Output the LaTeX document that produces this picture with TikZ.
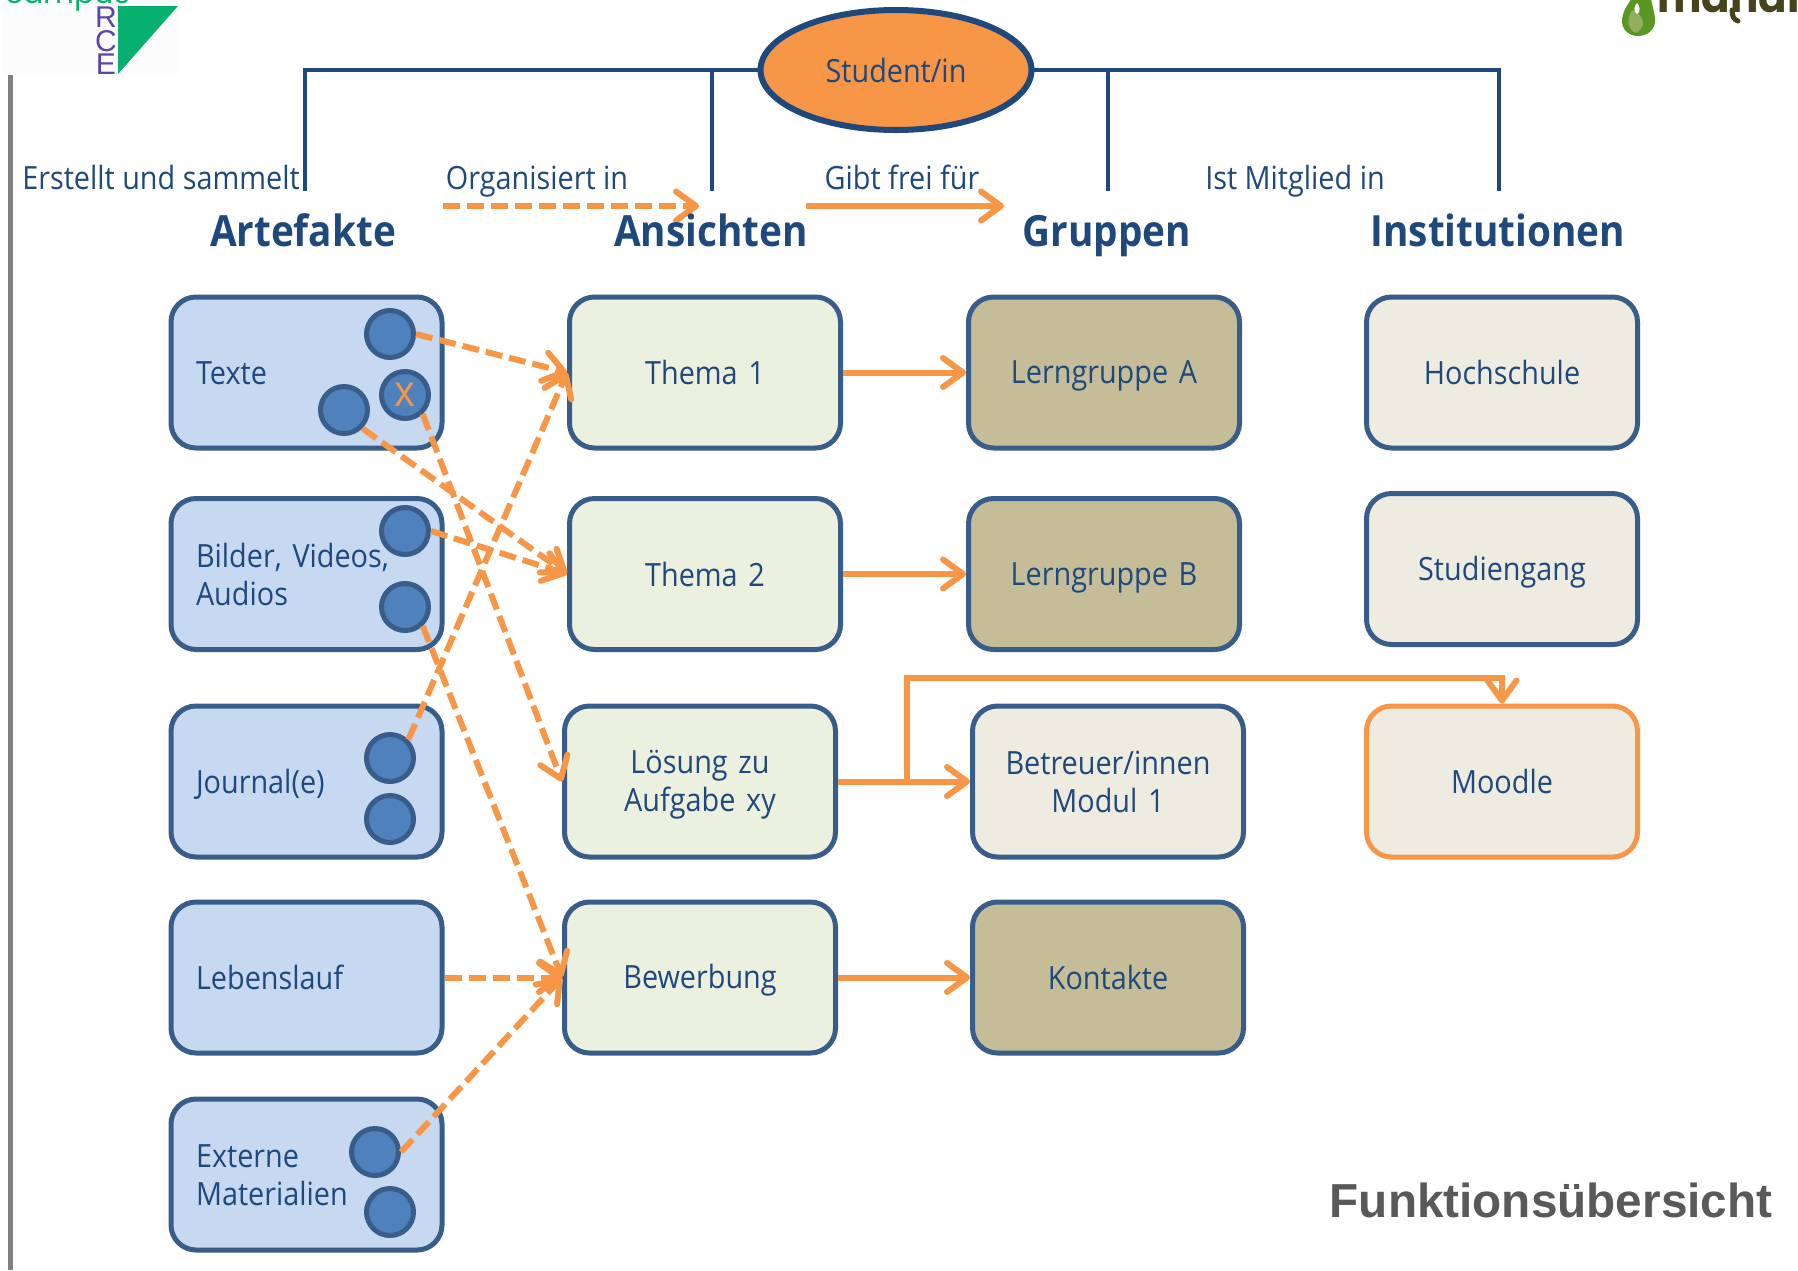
\documentclass[tikz,border=0pt]{standalone}
\usepackage{fontspec}
\usetikzlibrary{arrows.meta,shapes.geometric}
\setmainfont{Open Sans}[FakeStretch=0.9]
\newfontfamily\titlefont{Liberation Sans}
\newfontfamily\logofont{Poppins}
\definecolor{navy}{HTML}{1F497D}
\definecolor{edgeblue}{HTML}{385D8A}
\definecolor{artfill}{HTML}{C6D9F1}
\definecolor{dotfill}{HTML}{4F81BD}
\definecolor{viewfill}{HTML}{EBF1DE}
\definecolor{groupdark}{HTML}{C4BD97}
\definecolor{grouplight}{HTML}{EEECE1}
\definecolor{orng}{HTML}{F79646}
\newcommand\linestrut{\vrule width 0pt height 30pt depth 6pt\relax}
\tikzset{
  base box/.style={draw=edgeblue,line width=5pt,rounded corners=25pt,minimum width=271pt,minimum height=151pt,inner sep=0pt,text=navy,align=center,text width=255pt,font=\fontsize{32}{38}\selectfont,execute at begin node=\linestrut,execute at end node=\linestrut},
  artbox/.style={base box,fill=artfill,align=left,text width=221pt},
  viewbox/.style={base box,fill=viewfill},
  darkbox/.style={base box,fill=groupdark},
  lightbox/.style={base box,fill=grouplight},
  dot/.style={circle,draw=edgeblue,fill=dotfill,line width=5pt,minimum size=47pt,inner sep=0pt},
  head/.style={anchor=base,text=navy,font=\fontsize{43}{48}\selectfont\bfseries},
  verb/.style={anchor=base,text=navy,font=\fontsize{32}{38}\selectfont},
  tree/.style={draw=navy,line width=4pt},
  flow/.style={draw=orng,line width=6pt,-{Straight Barb[length=20pt,width=29pt,round]}},
  dash flow/.style={flow,dash pattern=on 17pt off 7pt},
}
\begin{document}
\begin{tikzpicture}[x=1pt,y=-1pt]
\path[use as bounding box,clip] (0,0) rectangle (1798,1270);
\fill[white] (0,0) rectangle (1798,1270);
% logos
\fill[black!1!white] (3,0) rectangle (178,75);
\node[anchor=base west,inner sep=0pt,text={rgb,255:red,8;green,176;blue,112},font=\fontsize{30}{30}\selectfont\logofont] (campus) at (5,3) {campus};
\foreach \n/\l/\yy in {r/R/27,c/C/51,e/E/74}
  \node[anchor=base,inner sep=0pt,text={rgb,255:red,90;green,70;blue,170},font=\fontsize{30}{30}\selectfont\titlefont] (src\n) at (106,\yy) {\l};
\fill[fill={rgb,255:red,8;green,176;blue,112}] (118,6) -- (178,6) -- (118,74) -- cycle;
\fill[gray] (8,75) rectangle (13,1270);
\node[anchor=base west,inner sep=0pt,text={rgb,255:red,70;green,68;blue,28},font=\fontsize{42}{42}\selectfont\logofont\bfseries] (mahara) at (1657,12) {mahara};
\draw[draw={rgb,255:red,70;green,68;blue,28},line width=5pt,line cap=round] (1732,10) .. controls (1732,16) and (1734,20) .. (1738,21);
\fill[fill={rgb,255:red,90;green,150;blue,35}] (1638,36) .. controls (1628,36) and (1622,29) .. (1622,21) .. controls (1622,12) and (1628,4) .. (1632,-2) -- (1651,-2) .. controls (1652,6) and (1655,13) .. (1655,21) .. controls (1655,29) and (1648,36) .. (1638,36) -- cycle;
\fill[fill={rgb,255:red,145;green,175;blue,95}] (1636,33) .. controls (1628,30) and (1626,20) .. (1632,10) .. controls (1643,14) and (1648,26) .. (1636,33) -- cycle;
\fill[white] (1637,3) .. controls (1634,6) and (1633,12) .. (1637,14) .. controls (1641,12) and (1640,6) .. (1637,3) -- cycle;
% top
\coordinate (tA) at (305,70);
\coordinate (tB) at (712,70);
\coordinate (tC) at (1108,70);
\coordinate (tD) at (1499,70);
\coordinate (bA) at (305,191);
\coordinate (bB) at (712,191);
\coordinate (bC) at (1108,191);
\coordinate (bD) at (1499,191);
\draw[tree] (bA) -- (tA) -- (tD) -- (bD);
\draw[tree] (tB) -- (bB);
\draw[tree] (tC) -- (bC);
\node[ellipse,draw=navy,fill=orng,line width=6pt,minimum width=271pt,minimum height=120pt,inner sep=0pt,text=navy,font=\fontsize{32}{38}\selectfont] (student) at (896,70) {Student/in};
\node[verb] (vA) at (161,189) {Erstellt und sammelt};
\node[verb] (vB) at (537,189) {Organisiert in};
\node[verb] (vC) at (902,189) {Gibt frei für};
\node[verb] (vD) at (1295,189) {Ist Mitglied in};
\coordinate (la) at (443,206);
\coordinate (lb) at (699,206);
\coordinate (lc) at (806,206);
\coordinate (ld) at (1004,206);
\draw[dash flow] (la) -- (lb);
\draw[flow] (lc) -- (ld);
\node[head] (hA) at (303,246) {Artefakte};
\node[head] (hB) at (711,246) {Ansichten};
\node[head] (hC) at (1107,246) {Gruppen};
\node[head] (hD) at (1498,246) {Institutionen};
% artefakte
\node[artbox] (a1) at (306.5,372.5) {Texte};
\node[artbox] (a2) at (306.5,574) {Bilder, Videos,\\Audios};
\node[artbox] (a3) at (306.5,781.5) {Journal(e)};
\node[artbox] (a4) at (306.5,977.5) {Lebenslauf};
\node[artbox] (a5) at (306.5,1174.5) {Externe\\Materialien};
\node[dot] (d1) at (390,334) {};
\node[dot,text=orng,font=\fontsize{44}{44}\selectfont] (d2) at (405,395) {x};
\node[dot] (d3) at (344,410) {};
\node[dot] (d4) at (405,531) {};
\node[dot] (d5) at (405,607) {};
\node[dot] (d6) at (390,758) {};
\node[dot] (d7) at (390,819) {};
\node[dot] (d8) at (375,1152) {};
\node[dot] (d9) at (390,1212) {};
% ansichten
\node[viewbox] (t1) at (705,372.5) {Thema 1};
\node[viewbox] (t2) at (705,574) {Thema 2};
\node[viewbox] (t3) at (700,781.5) {Lösung zu\\Aufgabe xy};
\node[viewbox] (t4) at (700,977.5) {Bewerbung};
% gruppen
\node[darkbox] (g1) at (1104,372.5) {Lerngruppe A};
\node[darkbox] (g2) at (1104,574) {Lerngruppe B};
\node[lightbox] (g3) at (1108,781.5) {Betreuer/innen\\Modul 1};
\node[darkbox] (g4) at (1108,977.5) {Kontakte};
% institutionen
\node[lightbox] (i1) at (1502,372.5) {Hochschule};
\node[lightbox] (i2) at (1502,569) {Studiengang};
\node[lightbox,draw=orng] (i3) at (1502,781.5) {Moodle};
% connectors
\draw[dash flow] (d1.east) -- (t1.west);
\draw[dash flow] (d6.45) -- (t1.west);
\draw[dash flow] (d3.-45) -- (t2.west);
\draw[dash flow] (d4.east) -- (t2.west);
\draw[dash flow] (d2.-47) -- (t3.west);
\draw[dash flow] (d5.-47) -- (t4.west);
\draw[dash flow] (a4.east) -- (t4.west);
\draw[dash flow] (d8.east) -- (t4.west);
\draw[flow] (t1.east) -- (g1.west);
\draw[flow] (t2.east) -- (g2.west);
\draw[flow] (t3.east) -- (g3.west);
\draw[flow] (t4.east) -- (g4.west);
\coordinate (br) at (907,781.5);
\coordinate (bt) at (907,678);
\draw[flow] (br) -- (bt) -| (i3.north);
\node[anchor=base,inner sep=0pt,text=black!65,font=\fontsize{47.7}{48}\selectfont\titlefont\bfseries] (title) at (1551,1217) {Funktionsübersicht};
\end{tikzpicture}
\end{document}
